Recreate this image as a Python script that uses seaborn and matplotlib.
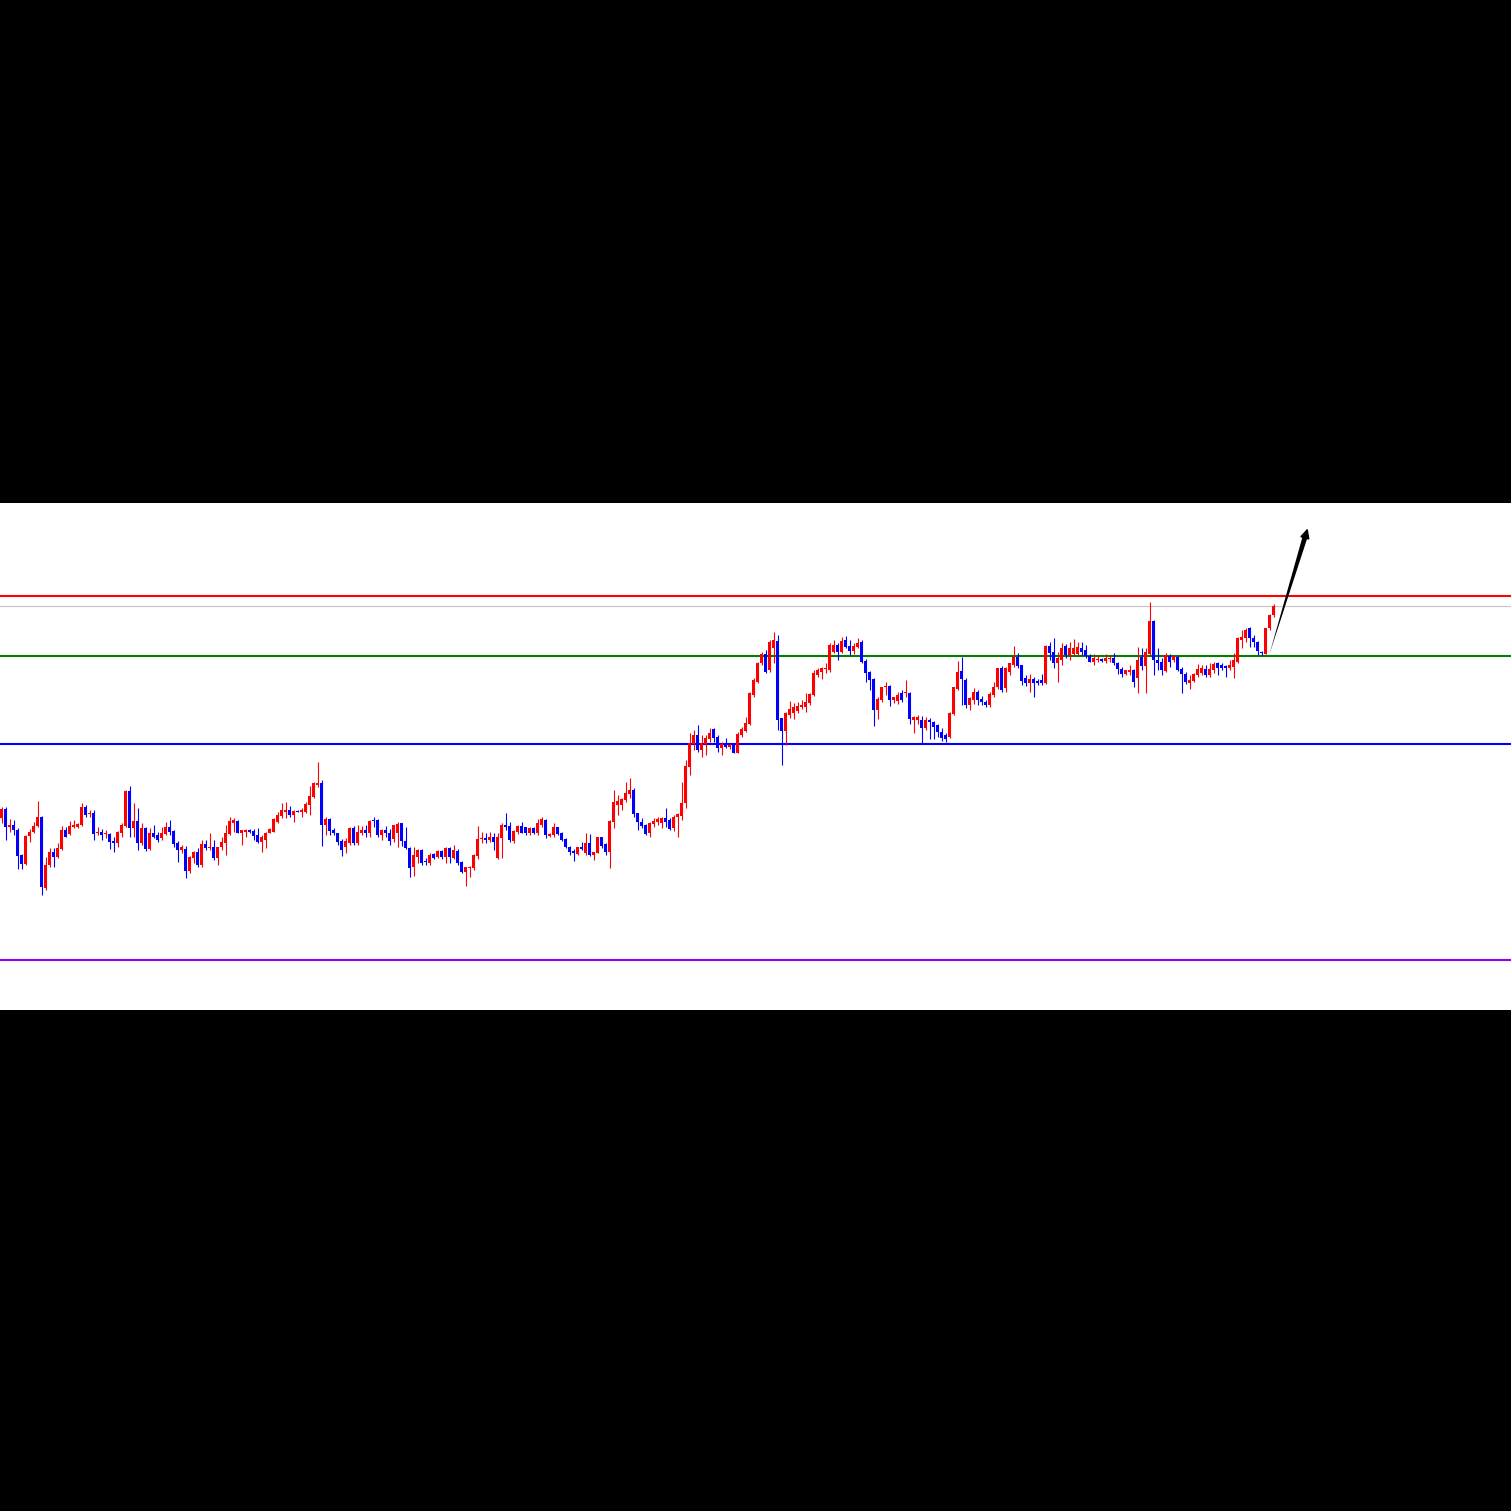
import numpy as np
import pandas as pd
import matplotlib
matplotlib.use("Agg")
import matplotlib.pyplot as plt
import seaborn as sns

# ---- data (price units) ----
opens = [192,201,183,185,180,155,146,174,178,184, 193,122,145,158,153,161,180,176,183,183,
 185,203,196,197,177,178,176,176,169,167, 177,184,219,182,189,167,182,161,177,175,
 172,176,183,179,167,160,161,139,152,158, 145,166,162,163,152,163,167,176,187,189,
 177,178,180,179,175,168,170,177,178,188, 194,198,200,195,199,198,198,205,213,225,
 227,185,191,180,177,169,163,167,182,167, 177,180,177,190,190,175,180,177,171,177,
 187,169,162,143,153,160,149,147,156,153, 159,153,162,152,159,148,138,142,142,154,
 171,172,170,173,152,172,185,184,169,178, 184,183,177,182,177,185,190,174,175,183,
 177,171,163,159,156,163,157,167,155,157, 173,166,158,188,205,205,210,216,220,197,
 188,185,177,186,188,187,192,190,182,193, 194,207,243,266,275,260,266,271,281,273,
 262,267,263,265,257,275,279,286,315,328, 347,356,340,362,369,292,279,295,297,299,
 303,303,307,315,335,338,341,340,358,365, 358,370,364,359,363,368,349,338,331,300,
 310,323,324,310,309,317,317,317,290,290, 290,282,290,288,285,278,275,273,296,321,
 339,330,305,310,318,311,308,305,315,323, 342,322,338,345,353,345,332,327,331,329,
 330,327,364,358,347,350,364,355,356,356, 362,360,354,348,350,351,349,351,352,347,
 341,336,338,340,332,353,344,356,389,350, 348,339,354,350,353,341,336,327,329,335,
 337,341,335,340,347,345,344,342,343,348, 370,372,382,372,368,358,356,382,395]
highs = [203,203,191,190,182,156,175,181,188,209, 194,153,162,162,167,184,183,189,190,187,
 207,205,200,200,183,181,180,177,173,179, 187,220,224,207,202,187,183,182,185,178,
 183,188,190,180,169,165,164,154,159,162, 170,170,177,170,163,173,185,193,192,190,
 180,181,181,181,182,175,178,182,192,198, 207,208,204,200,200,202,208,224,228,248,
 230,193,192,182,177,171,172,183,184,185, 184,185,190,193,191,181,184,181,185,188,
 187,183,163,163,161,161,152,157,157,160, 160,163,163,165,161,149,143,144,156,184,
 178,177,178,177,177,187,197,188,180,185, 188,183,183,183,191,193,191,177,187,183,
 178,172,164,161,163,168,177,176,158,173, 173,167,190,220,215,212,228,232,222,197,
 192,186,188,192,193,193,202,192,195,197, 228,250,277,280,285,275,275,282,282,275,
 268,272,267,266,278,283,293,318,332,348, 358,360,370,378,375,292,298,309,307,308,
 310,317,317,340,342,343,347,367,370,367, 373,374,370,367,372,370,351,339,332,313,
 323,328,325,313,318,320,330,318,294,295, 294,293,292,289,286,282,277,298,323,349,
 353,332,313,322,320,314,310,318,328,342, 344,343,347,364,357,345,335,336,333,331,
 336,365,368,372,358,367,366,368,371,368, 368,365,356,356,355,352,356,355,357,348,
 343,340,345,341,363,362,362,408,390,362, 352,357,356,355,354,343,338,335,337,346,
 345,345,347,348,348,347,345,350,357,373, 380,382,383,375,369,359,382,396,406]
lows = [187,170,178,175,141,141,145,168,177,183, 115,120,143,143,152,160,173,175,182,182,
 184,193,193,170,175,170,172,161,158,163, 173,183,173,173,160,165,159,160,172,168,
 170,175,175,163,148,157,132,137,147,143, 143,160,160,150,145,160,155,175,178,177,
 165,173,177,170,167,158,162,177,178,187, 192,192,193,188,198,193,197,195,212,223,
 164,175,175,175,165,154,157,165,165,165, 175,173,173,183,173,170,173,165,168,163,
 164,161,133,134,147,145,145,145,151,152, 151,147,147,151,145,137,124,133,140,151,
 167,167,168,160,151,152,180,168,167,176, 177,175,175,176,175,183,172,173,173,175,
 169,162,155,149,155,160,155,154,150,157, 162,155,142,182,195,200,208,212,193,180,
 182,175,173,183,185,182,183,180,179,173, 190,202,235,260,258,253,255,268,268,258,
 255,262,261,257,257,273,278,285,313,327, 345,337,338,347,280,245,265,292,291,297,
 301,298,305,314,333,331,337,338,357,350, 357,362,355,356,362,347,328,320,284,291,
 308,315,304,307,306,308,313,286,277,286, 267,280,271,271,273,269,268,272,295,320,
 305,302,300,306,305,305,303,303,313,321, 318,318,335,343,342,325,324,318,313,325,
 325,326,350,342,328,345,352,350,354,355, 355,352,348,345,348,348,347,348,345,336,
 333,335,335,323,317,340,317,355,335,340, 335,338,343,348,339,317,326,321,328,333,
 335,333,333,337,335,340,333,340,332,347, 362,368,363,363,355,355,356,380,393]
closes = [201,183,185,180,154,146,174,178,184,193, 123,145,158,153,162,180,173,184,185,186,
 203,195,197,176,178,175,177,168,167,178, 185,219,182,189,167,182,161,177,173,170,
 177,183,178,166,160,163,139,153,158,145, 166,162,163,152,163,168,177,189,190,177,
 180,180,178,174,168,173,177,181,191,195, 200,200,195,199,198,200,206,214,227,227,
 185,191,179,177,168,160,169,182,167,178, 180,177,189,189,175,180,177,169,185,186,
 169,162,142,155,160,147,148,155,152,159, 153,162,153,160,147,138,143,143,155,171,
 172,170,173,168,173,185,183,170,179,184, 177,177,182,177,187,191,175,176,183,176,
 170,163,158,157,163,161,167,155,158,173, 164,158,189,208,209,211,217,220,196,188,
 184,176,187,189,191,192,188,181,193,196, 207,244,267,275,260,267,272,277,272,262,
 266,263,265,257,276,281,287,317,330,347, 356,338,368,370,290,279,297,301,303,304,
 305,308,316,337,340,342,342,365,365,358, 369,363,359,364,367,348,337,330,300,311,
 323,324,310,313,315,310,318,291,293,293, 282,290,288,283,278,272,271,297,323,338,
 331,305,312,318,310,308,305,316,323,342, 320,342,347,353,344,329,327,331,327,327,
 327,364,357,347,352,362,355,362,362,363, 358,354,348,352,351,349,352,352,347,341,
 336,340,340,328,350,344,358,389,350,347, 340,355,348,354,340,336,328,330,336,341,
 342,335,341,346,342,342,342,345,350,372, 373,380,372,368,359,357,382,395,404]

level_values = [414, 404, 354.3, 266, 50]
level_colors = ["#FF0000", "#C8C8C8", "#008000", "#0000FF", "#9A00F0"]
level_widths = [1.5, 0.9, 1.5, 1.5, 1.5]

arrow_tail = (317.0, 356.0)
arrow_tip = (326.55, 481.7)

UP = "#FF0000"
DOWN = "#0000FF"

df = pd.DataFrame({"open": opens, "high": highs, "low": lows, "close": closes})
df["idx"] = np.arange(len(df))
df["up"] = df["close"] > df["open"]
df["body_lo"] = df[["open", "close"]].min(axis=1)
df["body_h"] = (df[["open", "close"]].max(axis=1) - df["body_lo"]).clip(lower=1.0)
df["color"] = np.where(df["up"], UP, DOWN)

sns.set_theme(style="white")

W = H = 1511
fig = plt.figure(figsize=(W / 100, H / 100), dpi=100, facecolor="black")
ax = fig.add_axes([0, 501 / H, 1, 507 / H])
ax.set_facecolor("white")

# horizontal levels
for v, c, lw in zip(level_values, level_colors, level_widths):
    ax.axhline(v, color=c, lw=lw, zorder=1)

# wicks
ax.vlines(df["idx"], df["low"], df["high"], colors=df["color"], lw=0.8, zorder=2)
# bodies
ax.bar(df["idx"], df["body_h"], bottom=df["body_lo"], width=0.72,
       color=df["color"], linewidth=0, zorder=3)

# arrow: tapered shaft plus a small head
ax.annotate("", xy=arrow_tail, xytext=arrow_tip,
            arrowprops=dict(arrowstyle="wedge,tail_width=0.3,shrink_factor=0.5",
                            color="black", lw=0, shrinkA=6, shrinkB=0),
            zorder=5)
ax.annotate("", xy=arrow_tip, xytext=(arrow_tip[0] - 0.6, arrow_tip[1] - 8),
            arrowprops=dict(arrowstyle="-|>,head_length=0.45,head_width=0.22",
                            color="black", lw=1.4, shrinkA=0, shrinkB=0),
            zorder=6)

ax.set_xlim(-0.375, 377.375)
ax.set_ylim(0, 507)
ax.set_xticks([])
ax.set_yticks([])
for s in ax.spines.values():
    s.set_visible(False)

fig.savefig("out.png", dpi=100, facecolor="black")
